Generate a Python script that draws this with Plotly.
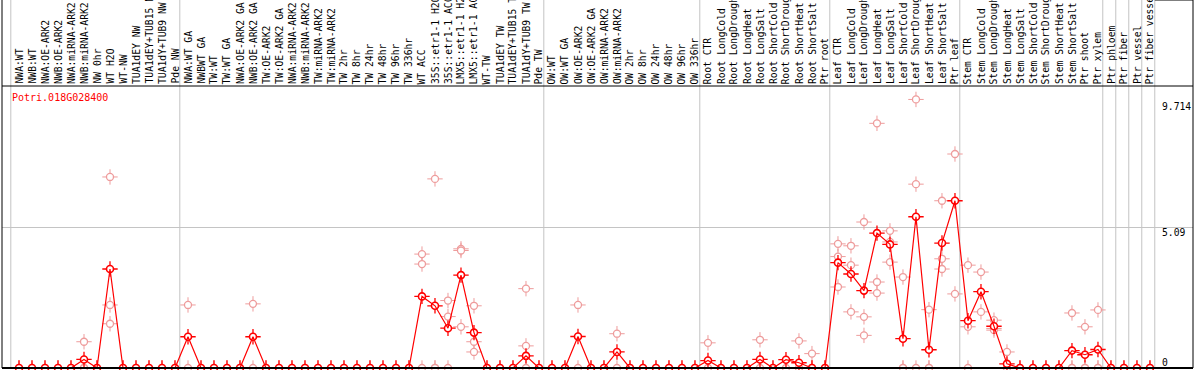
import plotly.graph_objects as go

categories = [
    "NWA:WT", "NWB:WT", "NWA:OE-ARK2", "NWB:OE-ARK2", "NWA:miRNA-ARK2", "NWB:miRNA-ARK2",
    "NW 0hr", "WT H2O", "WT-NW", "TUA1dEY NW", "TUA1dEY+TUB15 NW", "TUA1dY+TUB9 NW", "Pde NW",
    "NWA:WT GA", "NWBWT GA", "TW:WT", "TW:WT GA", "NWA:OE-ARK2 GA", "NWB:OE-ARK2 GA",
    "TW:OE-ARK2", "TW:OE-ARK2 GA", "NWA:miRNA-ARK2", "NWB:miRNA-ARK2", "TW:miRNA-ARK2",
    "TW:miRNA-ARK2", "TW 2hr", "TW 8hr", "TW 24hr", "TW 48hr", "TW 96hr", "TW 336hr",
    "WT ACC", "35S::etr1-1 H2O", "35S::etr1-1 ACC", "LMX5::etr1-1 H2O", "LMX5::etr1-1 ACC",
    "WT-TW", "TUA1dEY TW", "TUA1dEY+TUB15 TW", "TUA1dY+TUB9 TW", "Pde TW",
    "OW:WT", "OW:WT GA", "OW:OE-ARK2", "OW:OE-ARK2 GA", "OW:miRNA-ARK2", "OW:miRNA-ARK2",
    "OW 2hr", "OW 8hr", "OW 24hr", "OW 48hr", "OW 96hr", "OW 336hr",
    "Root CTR", "Root LongCold", "Root LongDrought", "Root LongHeat", "Root LongSalt",
    "Root ShortCold", "Root ShortDrought", "Root ShortHeat", "Root ShortSalt", "Ptr root",
    "Leaf CTR", "Leaf LongCold", "Leaf LongDrought", "Leaf LongHeat", "Leaf LongSalt",
    "Leaf ShortCold", "Leaf ShortDrought", "Leaf ShortHeat", "Leaf ShortSalt", "Ptr leaf",
    "Stem CTR", "Stem LongCold", "Stem LongDrought", "Stem LongHeat", "Stem LongSalt",
    "Stem ShortCold", "Stem ShortDrought", "Stem ShortHeat", "Stem ShortSalt", "Ptr shoot",
    "Ptr xylem", "Ptr phloem", "Ptr fiber", "Ptr vessel", "Ptr fiber vessel",
]

mean_values = [
    0, 0, 0, 0, 0, 0.31, 0, 3.58, 0, 0, 0, 0, 0,
    1.13, 0, 0, 0, 0, 1.13, 0, 0, 0, 0, 0, 0, 0, 0, 0, 0, 0, 0,
    2.59, 2.25, 1.44, 3.36, 1.28, 0, 0, 0, 0.44, 0,
    0, 0, 1.14, 0, 0, 0.58, 0, 0, 0, 0, 0, 0,
    0.27, 0, 0, 0, 0.31, 0, 0.30, 0.19, 0, 0,
    3.81, 3.40, 2.80, 4.88, 4.47, 1.06, 5.47, 0.66, 4.52, 6.05,
    1.71, 2.76, 1.51, 0.15, 0, 0, 0, 0, 0.63, 0.48,
    0.67, 0, 0, 0, 0,
]

replicates = {
    5: [0.95, 0, 0], 7: [6.91, 2.28, 1.60], 13: [2.28, 0], 18: [2.32, 0],
    31: [4.12, 3.76, 0], 32: [6.84, 0, 0], 33: [2.44, 1.86, 0], 34: [4.31, 4.25, 1.49],
    35: [2.25, 0.95, 0.58], 39: [2.87, 0.80, 0], 43: [2.28, 0], 46: [1.24, 0],
    53: [0.91, 0], 57: [1.02, 0], 60: [0.98, 0], 61: [0.52, 0, 0],
    63: [4.49, 4.03, 2.93], 64: [4.42, 3.72, 2.03], 65: [5.28, 1.85, 1.18],
    66: [8.85, 3.11, 2.71], 67: [4.96, 4.56, 3.83], 68: [3.29, 0, 0],
    69: [9.714, 6.65, 0], 70: [2.11, 0, 0], 71: [6.05, 3.95, 3.58], 72: [7.74, 2.68],
    73: [3.72, 1.49, 0], 74: [3.47, 2.03], 75: [1.73, 1.43, 1.37], 76: [0.58, 0],
    81: [1.99, 0, 0], 82: [1.49, 0, 0], 83: [2.10, 0, 0],
}

group_starts = [0, 13, 41, 53, 63, 73, 84, 85, 86, 87, 88]
y_labels = [9.714, 5.09, 0]
gene = "Potri.018G028400"

RED = "#ff0000"
PINK = "#ee9c9c"
GRID = "#c4c4c4"
FONT = "DejaVu Sans Mono"

n = len(categories)
xs = list(range(n))
rep_x, rep_y = [], []
for i in xs:
    for v in replicates.get(i, [0]):
        rep_x.append(i)
        rep_y.append(v)

fig = go.Figure()
fig.add_trace(go.Scatter(x=rep_x, y=rep_y, mode="markers", cliponaxis=False, hoverinfo="skip",
                         marker=dict(symbol="cross-thin-open", size=11, color=PINK, line=dict(color=PINK, width=1))))
fig.add_trace(go.Scatter(x=rep_x, y=rep_y, mode="markers", cliponaxis=False,
                         marker=dict(symbol="circle", size=7, color="white", line=dict(color=PINK, width=1.3))))
fig.add_trace(go.Scatter(x=xs, y=mean_values, mode="markers", cliponaxis=False, hoverinfo="skip",
                         marker=dict(symbol="cross-thin-open", size=11, color=RED, line=dict(color=RED, width=1.3))))
fig.add_trace(go.Scatter(x=xs, y=mean_values, mode="markers", cliponaxis=False,
                         marker=dict(symbol="circle", size=7, color="white", line=dict(color=RED, width=1.6))))
fig.add_trace(go.Scatter(x=xs, y=mean_values, mode="lines", cliponaxis=False, hoverinfo="skip",
                         line=dict(color=RED, width=1.2)))

W, H = 1194, 370
ml, mr, mt, mb = 2, 1, 86, 2
plot_h = H - mt - mb
top_paper = 1 + mt / plot_h

shapes = []
for b in group_starts:
    shapes.append(dict(type="line", xref="x", yref="paper", x0=b - 0.63, x1=b - 0.63,
                       y0=0, y1=top_paper, line=dict(color=GRID, width=1), layer="below"))
shapes += [
    dict(type="line", xref="paper", yref="paper", x0=0, x1=1, y0=1, y1=1, line=dict(color="black", width=1)),
    dict(type="line", xref="paper", yref="paper", x0=0, x1=1, y0=0, y1=0, line=dict(color="black", width=2)),
    dict(type="line", xref="paper", yref="paper", x0=0, x1=0, y0=0, y1=top_paper, line=dict(color="black", width=1)),
    dict(type="line", xref="paper", yref="paper", x0=1, x1=1, y0=0, y1=top_paper, line=dict(color="black", width=1)),
    dict(type="line", xref="x", yref="paper", x0=group_starts[-1] - 0.63, x1=90.31, y0=top_paper, y1=top_paper,
         line=dict(color="black", width=1)),
]

annotations = []
for i, name in enumerate(categories):
    annotations.append(dict(text=name, xref="x", yref="paper", x=i, y=1, xanchor="center", yanchor="bottom",
                            yshift=1, textangle=-90, showarrow=False, borderpad=0,
                            font=dict(family=FONT, size=9.7, color="black")))
annotations.append(dict(text=gene, xref="paper", yref="paper", x=0.0067, y=1, xanchor="left", yanchor="middle",
                        yshift=-11, showarrow=False, font=dict(family=FONT, size=10, color=RED)))
shifts = [-7, -5, 6]
for v, s in zip(y_labels, shifts):
    annotations.append(dict(text=f"{v:g}", xref="x", yref="y", x=87.85, y=v, xanchor="left", yanchor="middle",
                            yshift=s, showarrow=False, borderpad=0,
                            font=dict(family=FONT, size=9.7, color="black")))

fig.update_layout(
    width=W, height=H, margin=dict(l=ml, r=mr, t=mt, b=mb, autoexpand=False),
    paper_bgcolor="white", plot_bgcolor="white", showlegend=False,
    shapes=shapes, annotations=annotations,
    xaxis=dict(range=[-1.3077, 90.31], showticklabels=False, ticks="", showgrid=False, zeroline=False,
               showline=False, automargin=False),
    yaxis=dict(range=[0, 10.2], tickmode="array", tickvals=[5.09], showticklabels=False, showgrid=True,
               gridcolor=GRID, gridwidth=1, zeroline=False, showline=False, automargin=False),
)

fig.write_html("out.html", config={"displayModeBar": False},
               post_script="document.body.style.margin='0';document.body.style.overflow='hidden';")
